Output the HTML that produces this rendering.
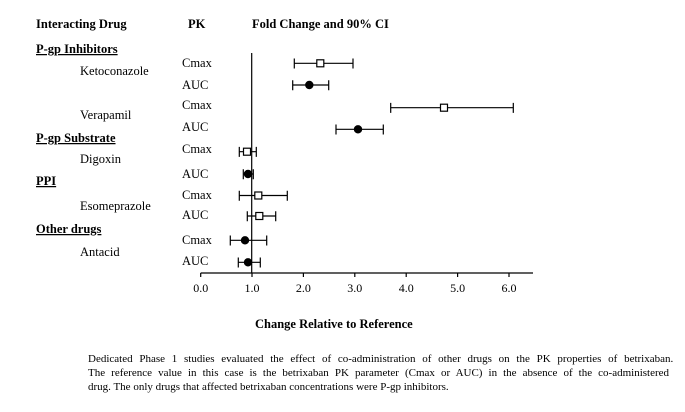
<!DOCTYPE html>
<html><head><style>body{margin:0;background:#fff}svg{display:block}</style></head><body>
<svg width="685" height="412" xmlns="http://www.w3.org/2000/svg" font-family="Liberation Serif, serif" font-size="12.5" fill="#000">
<g font-weight="bold">
<text x="36" y="28">Interacting Drug</text>
<text x="188" y="28">PK</text>
<text x="252" y="28">Fold Change and 90% CI</text>
<text x="36" y="53" text-decoration="underline">P-gp Inhibitors</text>
<text x="36" y="142" text-decoration="underline">P-gp Substrate</text>
<text x="36" y="185" text-decoration="underline">PPI</text>
<text x="36" y="233" text-decoration="underline">Other drugs</text>
<text x="255" y="328">Change Relative to Reference</text>
</g>
<text x="80" y="75">Ketoconazole</text>
<text x="80" y="119">Verapamil</text>
<text x="80" y="163">Digoxin</text>
<text x="80" y="210">Esomeprazole</text>
<text x="80" y="256">Antacid</text>
<g>
<text x="182" y="67">Cmax</text><text x="182" y="89">AUC</text>
<text x="182" y="109">Cmax</text><text x="182" y="131">AUC</text>
<text x="182" y="153">Cmax</text><text x="182" y="178">AUC</text>
<text x="182" y="199">Cmax</text><text x="182" y="219">AUC</text>
<text x="182" y="244">Cmax</text><text x="182" y="265">AUC</text>
</g>
<g stroke="#000" stroke-width="1.2" fill="none">
<line x1="251.7" y1="53" x2="251.7" y2="273"/>
<line x1="200.7" y1="273" x2="533" y2="273"/>
<g>
<line x1="200.7" y1="273" x2="200.7" y2="277"/><line x1="252" y1="273" x2="252" y2="277"/><line x1="303.4" y1="273" x2="303.4" y2="277"/><line x1="354.8" y1="273" x2="354.8" y2="277"/><line x1="406.2" y1="273" x2="406.2" y2="277"/><line x1="457.6" y1="273" x2="457.6" y2="277"/><line x1="509" y1="273" x2="509" y2="277"/>
</g>
</g>
<g font-size="12" text-anchor="middle">
<text x="200.7" y="292">0.0</text><text x="252" y="292">1.0</text><text x="303.4" y="292">2.0</text><text x="354.8" y="292">3.0</text><text x="406.2" y="292">4.0</text><text x="457.6" y="292">5.0</text><text x="509" y="292">6.0</text>
</g>
<g stroke="#000" stroke-width="1.2">
<path d="M294.3 63.3H353M294.3 58.5v10M353 58.5v10"/><rect x="316.8" y="59.8" width="7" height="7" fill="#fff"/>
<path d="M292.7 85H328.7M292.7 80.2v10M328.7 80.2v10"/><circle cx="309.3" cy="85" r="3.6" fill="#000"/>
<path d="M390.7 107.7H513.3M390.7 102.9v10M513.3 102.9v10"/><rect x="440.5" y="104.2" width="7" height="7" fill="#fff"/>
<path d="M336 129.3H383.3M336 124.5v10M383.3 124.5v10"/><circle cx="358" cy="129.3" r="3.6" fill="#000"/>
<path d="M239.3 151.7H256.3M239.3 146.9v10M256.3 146.9v10"/><rect x="243.5" y="148.2" width="7" height="7" fill="#fff"/>
<path d="M243.3 174H253.3M243.3 169.2v10M253.3 169.2v10"/><circle cx="248" cy="174" r="3.6" fill="#000"/>
<path d="M239.3 195.5H287.3M239.3 190.7v10M287.3 190.7v10"/><rect x="254.8" y="192" width="7" height="7" fill="#fff"/>
<path d="M247.3 216H275.7M247.3 211.2v10M275.7 211.2v10"/><rect x="255.8" y="212.5" width="7" height="7" fill="#fff"/>
<path d="M230.3 240.3H266.7M230.3 235.5v10M266.7 235.5v10"/><circle cx="245" cy="240.3" r="3.6" fill="#000"/>
<path d="M238.3 262.3H260.3M238.3 257.5v10M260.3 257.5v10"/><circle cx="248" cy="262.3" r="3.6" fill="#000"/>
</g>
<g font-size="11">
<text x="88" y="362" word-spacing="4" style="word-spacing:4px">Dedicated Phase 1 studies evaluated the effect of co-administration of other drugs on the PK properties of betrixaban.</text>
<text x="88" y="376" word-spacing="3.3" style="word-spacing:3.3px">The reference value in this case is the betrixaban PK parameter (Cmax or AUC) in the absence of the co-administered</text>
<text x="88" y="390">drug. The only drugs that affected betrixaban concentrations were P-gp inhibitors.</text>
</g>
</svg>
</body></html>
